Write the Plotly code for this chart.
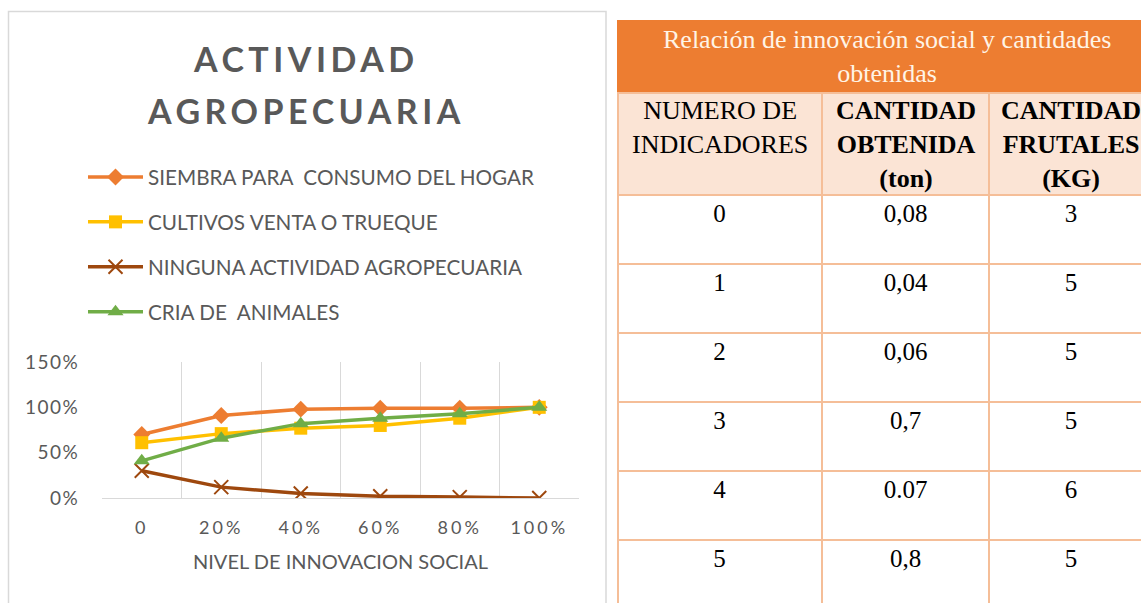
import plotly.graph_objects as go

W, H = 1141, 603

# ---- line chart data ----
nivel = ["0", "20%", "40%", "60%", "80%", "100%"]
siembra = [0.70, 0.91, 0.98, 0.99, 0.99, 1.00]
cultivos = [0.61, 0.71, 0.77, 0.80, 0.88, 1.00]
ninguna = [0.30, 0.12, 0.05, 0.02, 0.01, 0.00]
cria = [0.41, 0.66, 0.82, 0.88, 0.93, 1.00]

serie_nombres = [
    "SIEMBRA PARA  CONSUMO DEL HOGAR",
    "CULTIVOS VENTA O TRUEQUE",
    "NINGUNA ACTIVIDAD AGROPECUARIA",
    "CRIA DE  ANIMALES",
]
y_ticks = [0, 0.5, 1.0, 1.5]
y_ticklabels = ["0%", "50%", "100%", "150%"]

chart_title = ["ACTIVIDAD", "AGROPECUARIA"]
x_title = "NIVEL DE INNOVACION SOCIAL"

# ---- table data ----
tabla_titulo = "Relación de innovación social y cantidades<br>obtenidas"
tabla_encabezados = [
    "NUMERO DE<br>INDICADORES",
    "<b>CANTIDAD<br>OBTENIDA<br>(ton)</b>",
    "<b>CANTIDAD<br>FRUTALES<br>(KG)</b>",
]
indicadores = ["0", "1", "2", "3", "4", "5"]
cantidad_ton = ["0,08", "0,04", "0,06", "0,7", "0.07", "0,8"]
frutales_kg = ["3", "5", "5", "5", "6", "5"]


def px(x):
    return x / W


def py(y):
    return 1 - y / H


GRAY_TXT = "#595959"
GRID = "#d9d9d9"
CHART_FONT = "Lato"
SERIF = "Liberation Serif"


def spaced(t, ls):
    return f'<span style="letter-spacing:{ls}px">{t}</span>'


fig = go.Figure()

# ---------------- line chart ----------------
styles = [
    dict(color="#ED7D31", symbol="diamond", size=13),
    dict(color="#FFC000", symbol="square", size=13),
    dict(color="#9E480E", symbol="x-thin", size=14),
    dict(color="#70AD47", symbol="triangle-up", size=14),
]
for i, (name, vals, st) in enumerate(zip(serie_nombres, [siembra, cultivos, ninguna, cria], styles)):
    marker = dict(symbol=st["symbol"], size=st["size"], color=st["color"])
    if st["symbol"] == "x-thin":
        marker["line"] = dict(color=st["color"], width=2)
    fig.add_trace(go.Scatter(
        x=nivel, y=vals, name=name, mode="lines+markers",
        line=dict(color=st["color"], width=3.5),
        marker=marker, legendgroup=f"g{i}",
    ))

# ---------------- table (drawn on a hidden pixel-unit axis pair) ----------------
TBL_LEFT, TBL_TOP = 617, 20
col_edges = [0, 205, 372, 536]          # column boundaries
title_h, header_h, row_h = 73, 102, 69
LINE_C = "#F5BE98"

col_centers = [(a + b) / 2 for a, b in zip(col_edges[:-1], col_edges[1:])]
header_bottom = title_h + header_h
row_tops = [header_bottom + row_h * i for i in range(len(indicadores))]

cell_x, cell_y, cell_t = [], [], []
for c, col in enumerate([indicadores, cantidad_ton, frutales_kg]):
    for r, val in enumerate(col):
        cell_x.append(col_centers[c])
        cell_y.append(row_tops[r] + 21)
        cell_t.append(val)

fig.add_trace(go.Scatter(
    x=cell_x, y=cell_y, text=cell_t, mode="text", xaxis="x2", yaxis="y2",
    textfont=dict(family=SERIF, size=25, color="black"), textposition="middle center",
    showlegend=False, hoverinfo="skip", cliponaxis=False,
))

tshapes = []
# title band and header band
tshapes.append(dict(type="rect", xref="x2", yref="y2", x0=0, x1=W - TBL_LEFT, y0=0, y1=title_h,
                    fillcolor="#ED7D31", line=dict(width=0), layer="below"))
tshapes.append(dict(type="rect", xref="x2", yref="y2", x0=0, x1=W - TBL_LEFT, y0=title_h, y1=header_bottom,
                    fillcolor="#FBE4D5", line=dict(width=0), layer="below"))
# horizontal rules
for yv in [title_h, header_bottom] + row_tops[1:]:
    tshapes.append(dict(type="line", xref="x2", yref="y2", x0=0, x1=W - TBL_LEFT, y0=yv, y1=yv,
                        line=dict(color=LINE_C, width=2)))
# vertical rules
for xv in col_edges[:-1]:
    xx = xv + (1 if xv == 0 else 0)
    tshapes.append(dict(type="line", xref="x2", yref="y2", x0=xx, x1=xx,
                        y0=title_h, y1=H - TBL_TOP,
                        line=dict(color=LINE_C, width=2)))

# ---------------- layout ----------------
fig.update_layout(
    width=W, height=H,
    margin=dict(l=0, r=0, t=0, b=0, autoexpand=False),
    paper_bgcolor="white", plot_bgcolor="rgba(0,0,0,0)",
    font=dict(family=CHART_FONT, color=GRAY_TXT),
    showlegend=True, hovermode=False,
    legend=dict(
        x=px(83), y=py(157), xanchor="left", yanchor="top",
        font=dict(family=CHART_FONT, size=20.7, color=GRAY_TXT),
        itemwidth=55, tracegroupgap=15, traceorder="grouped",
        bgcolor="rgba(0,0,0,0)", itemclick=False,
    ),
    xaxis=dict(
        domain=[px(102), px(579)], type="category", anchor="y",
        range=[-0.5, 5.5], tickson="boundaries",
        tickmode="array", tickvals=nivel,
        ticktext=[spaced(c, 3) for c in nivel],
        showgrid=True, gridcolor=GRID, gridwidth=1.3,
        showline=True, linecolor=GRID, linewidth=1.3,
        ticks="", ticklabelstandoff=13,
        tickfont=dict(size=18, color=GRAY_TXT),
        title=dict(text=x_title, font=dict(size=20, color=GRAY_TXT), standoff=18),
        zeroline=False, fixedrange=True, automargin=False,
    ),
    yaxis=dict(
        domain=[py(498), py(362)], range=[0, 1.5], anchor="x",
        tickmode="array", tickvals=y_ticks, ticktext=[spaced(t, 1.5) for t in y_ticklabels],
        showgrid=False, zeroline=False, showline=False,
        ticks="outside", ticklen=18, tickcolor="rgba(0,0,0,0)",
        tickfont=dict(size=19, color=GRAY_TXT), fixedrange=True, automargin=False,
    ),
    xaxis2=dict(domain=[px(TBL_LEFT), 1.0], range=[0, W - TBL_LEFT], anchor="y2",
                visible=False, fixedrange=True, automargin=False),
    yaxis2=dict(domain=[0, py(TBL_TOP)], range=[H - TBL_TOP, 0], anchor="x2",
                visible=False, fixedrange=True, automargin=False),
    shapes=tshapes,
)

# chart title
for txt, ycen in zip(chart_title, [58, 111]):
    fig.add_annotation(
        x=px(306), y=py(ycen), xref="paper", yref="paper",
        text=f"<b>{spaced(txt, 4.5)}</b>", showarrow=False,
        font=dict(family=CHART_FONT, size=34, color=GRAY_TXT),
        xanchor="center", yanchor="middle",
    )

# chart frame
fig.add_shape(type="rect", xref="paper", yref="paper",
              x0=px(8.5), x1=px(606), y0=-0.05, y1=py(11.5),
              line=dict(color=GRID, width=1.5), fillcolor="rgba(0,0,0,0)", layer="below")

# table title and column headers
fig.add_annotation(
    x=540 / 2, y=title_h / 2 + 0.5, xref="x2", yref="y2", text=tabla_titulo,
    showarrow=False, font=dict(family=SERIF, size=26, color="#FFF4E6"),
    xanchor="center", yanchor="middle",
)
for cx, htxt in zip(col_centers, tabla_encabezados):
    fig.add_annotation(
        x=cx, y=title_h + 1, xref="x2", yref="y2", text=htxt, showarrow=False,
        font=dict(family=SERIF, size=26, color="black"),
        xanchor="center", yanchor="top", align="center",
    )

fig.write_html("out.html")
